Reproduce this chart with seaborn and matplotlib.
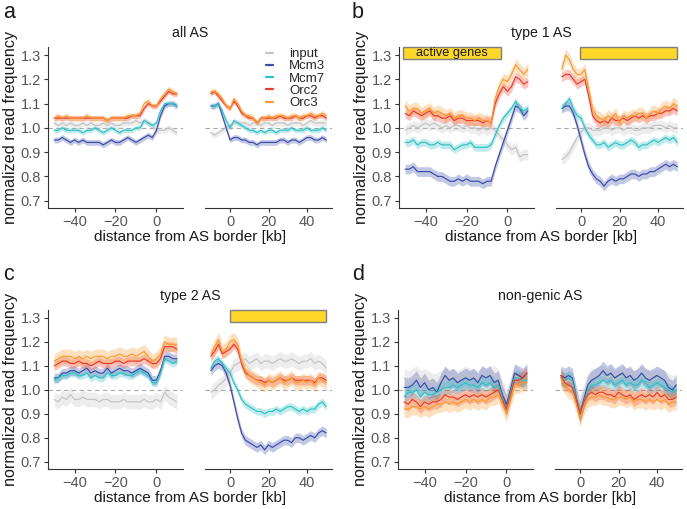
import pandas as pd
import matplotlib
matplotlib.use("Agg")
import matplotlib.pyplot as plt
from matplotlib.patches import Rectangle
import seaborn as sns

# -----------------------------
# Series and colours
# -----------------------------
series = ["input", "Mcm3", "Mcm7", "Orc2", "Orc3"]
palette = {"input": "#C4C4C4", "Mcm3": "#3B4BA8", "Mcm7": "#2EC0C4",
           "Orc2": "#EE3A2C", "Orc3": "#FA9A2E"}

x_left = list(range(-50, 11, 2))
x_right = list(range(-10, 51, 2))
y_ticks = [0.7, 0.8, 0.9, 1.0, 1.1, 1.2, 1.3]

# -----------------------------
# Panel a: all AS
# -----------------------------
a_left_input = [1.02, 1.01, 1.02, 1.01, 1.02, 1.01, 1.01, 1.02, 1.01, 1.02, 1.01, 1.01, 1.02, 1.01, 1.02, 1.01,
                1.01, 1.02, 1.02, 1.02, 1.03, 1.02, 1.03, 1.02, 1.01, 0.99, 0.99, 0.99, 1.00, 0.99, 0.98]
a_left_mcm3 = [0.95, 0.95, 0.96, 0.95, 0.94, 0.95, 0.94, 0.95, 0.94, 0.94, 0.94, 0.94, 0.93, 0.94, 0.95, 0.94,
               0.94, 0.95, 0.96, 0.95, 0.94, 0.95, 0.96, 0.97, 0.96, 0.99, 1.05, 1.09, 1.10, 1.10, 1.09]
a_left_mcm7 = [0.99, 0.99, 1.00, 0.99, 0.99, 0.99, 0.99, 0.98, 0.99, 0.99, 1.00, 0.99, 0.98, 0.99, 1.00, 0.99,
               0.98, 0.99, 0.99, 0.99, 1.00, 1.00, 1.03, 1.02, 1.01, 1.02, 1.07, 1.10, 1.10, 1.10, 1.09]
a_left_orc2 = [1.04, 1.04, 1.04, 1.04, 1.04, 1.04, 1.04, 1.04, 1.04, 1.04, 1.04, 1.04, 1.04, 1.03, 1.04, 1.04,
               1.04, 1.04, 1.04, 1.05, 1.05, 1.05, 1.08, 1.10, 1.09, 1.09, 1.11, 1.13, 1.15, 1.14, 1.14]
a_left_orc3 = [1.04, 1.05, 1.04, 1.05, 1.04, 1.04, 1.04, 1.04, 1.05, 1.04, 1.04, 1.04, 1.04, 1.03, 1.04, 1.04,
               1.04, 1.04, 1.05, 1.05, 1.05, 1.06, 1.10, 1.11, 1.09, 1.09, 1.12, 1.14, 1.16, 1.15, 1.14]
a_right_input = [0.98, 0.97, 0.98, 0.99, 1.00, 1.01, 1.02, 1.02, 1.02, 1.02, 1.01, 1.02, 1.02, 1.01, 1.02, 1.02,
                 1.01, 1.02, 1.02, 1.02, 1.01, 1.02, 1.02, 1.02, 1.01, 1.02, 1.03, 1.02, 1.02, 1.02, 1.02]
a_right_mcm3 = [1.09, 1.09, 1.10, 1.05, 1.00, 0.95, 0.96, 0.96, 0.95, 0.95, 0.94, 0.94, 0.93, 0.94, 0.94, 0.94,
                0.94, 0.94, 0.95, 0.95, 0.94, 0.95, 0.95, 0.94, 0.95, 0.96, 0.96, 0.95, 0.95, 0.96, 0.95]
a_right_mcm7 = [1.09, 1.09, 1.10, 1.07, 1.03, 1.00, 1.03, 1.02, 1.01, 1.00, 0.99, 0.99, 0.98, 0.99, 0.98, 0.99,
                0.99, 0.98, 0.99, 0.99, 0.99, 1.00, 0.99, 0.99, 0.99, 1.00, 0.99, 0.99, 0.99, 1.00, 0.99]
a_right_orc2 = [1.14, 1.15, 1.13, 1.11, 1.09, 1.08, 1.11, 1.09, 1.06, 1.05, 1.04, 1.04, 1.02, 1.04, 1.04, 1.04,
                1.04, 1.04, 1.05, 1.04, 1.04, 1.04, 1.05, 1.04, 1.04, 1.05, 1.05, 1.04, 1.05, 1.05, 1.04]
a_right_orc3 = [1.15, 1.15, 1.14, 1.12, 1.09, 1.08, 1.12, 1.10, 1.07, 1.05, 1.05, 1.04, 1.02, 1.04, 1.04, 1.05,
                1.04, 1.05, 1.05, 1.05, 1.04, 1.05, 1.05, 1.04, 1.05, 1.05, 1.06, 1.05, 1.05, 1.06, 1.05]
a_halfwidth = [0.013, 0.012, 0.010, 0.010, 0.012]

# -----------------------------
# Panel b: type 1 AS
# -----------------------------
b_left_input = [0.99, 1.00, 1.01, 1.00, 1.01, 1.02, 1.01, 1.02, 1.01, 1.00, 1.01, 1.00, 1.01, 1.01, 1.00, 1.01,
                1.00, 1.00, 0.99, 1.00, 0.99, 1.00, 0.99, 0.97, 0.95, 0.93, 0.91, 0.92, 0.88, 0.89, 0.89]
b_left_mcm3 = [0.83, 0.83, 0.84, 0.82, 0.82, 0.82, 0.82, 0.81, 0.80, 0.80, 0.79, 0.78, 0.78, 0.79, 0.78, 0.79,
               0.78, 0.78, 0.78, 0.77, 0.78, 0.78, 0.84, 0.89, 0.94, 0.99, 1.04, 1.09, 1.08, 1.05, 1.07]
b_left_mcm7 = [0.94, 0.94, 0.95, 0.93, 0.94, 0.94, 0.93, 0.93, 0.94, 0.93, 0.93, 0.93, 0.91, 0.92, 0.93, 0.93,
               0.94, 0.92, 0.92, 0.92, 0.92, 0.93, 0.97, 1.01, 1.04, 1.06, 1.08, 1.11, 1.08, 1.07, 1.08]
b_left_orc2 = [1.06, 1.05, 1.07, 1.06, 1.05, 1.06, 1.07, 1.05, 1.05, 1.04, 1.04, 1.05, 1.03, 1.04, 1.04, 1.03,
               1.03, 1.03, 1.03, 1.02, 1.03, 1.02, 1.10, 1.14, 1.17, 1.15, 1.17, 1.21, 1.20, 1.18, 1.19]
b_left_orc3 = [1.09, 1.07, 1.08, 1.08, 1.06, 1.07, 1.08, 1.06, 1.07, 1.06, 1.05, 1.06, 1.04, 1.05, 1.05, 1.04,
               1.04, 1.03, 1.04, 1.03, 1.03, 1.02, 1.12, 1.17, 1.20, 1.19, 1.22, 1.26, 1.24, 1.22, 1.24]
b_right_input = [0.87, 0.88, 0.90, 0.93, 0.96, 0.98, 1.00, 1.00, 0.99, 0.99, 0.99, 1.00, 1.00, 0.99, 1.00, 1.00,
                 0.99, 1.00, 1.00, 0.99, 0.99, 1.00, 1.00, 1.00, 1.01, 1.01, 1.01, 1.00, 1.01, 1.00, 1.00]
b_right_mcm3 = [1.08, 1.09, 1.09, 1.06, 1.01, 0.95, 0.89, 0.84, 0.81, 0.79, 0.78, 0.76, 0.78, 0.79, 0.78, 0.79,
                0.79, 0.80, 0.81, 0.81, 0.80, 0.81, 0.81, 0.82, 0.82, 0.83, 0.84, 0.85, 0.84, 0.85, 0.84]
b_right_mcm7 = [1.08, 1.10, 1.12, 1.08, 1.05, 1.04, 1.00, 0.97, 0.95, 0.93, 0.93, 0.94, 0.92, 0.93, 0.94, 0.93,
                0.93, 0.94, 0.95, 0.94, 0.92, 0.93, 0.93, 0.94, 0.95, 0.94, 0.95, 0.96, 0.95, 0.96, 0.94]
b_right_orc2 = [1.21, 1.22, 1.22, 1.20, 1.18, 1.19, 1.20, 1.13, 1.05, 1.03, 1.02, 1.03, 1.02, 1.04, 1.03, 1.03,
                1.04, 1.03, 1.04, 1.05, 1.04, 1.05, 1.04, 1.05, 1.05, 1.06, 1.06, 1.07, 1.07, 1.08, 1.07]
b_right_orc3 = [1.24, 1.30, 1.28, 1.24, 1.22, 1.22, 1.24, 1.16, 1.08, 1.05, 1.04, 1.03, 1.05, 1.04, 1.06, 1.02,
                1.05, 1.04, 1.05, 1.05, 1.06, 1.06, 1.04, 1.06, 1.07, 1.06, 1.08, 1.09, 1.08, 1.10, 1.09]
b_halfwidth = [0.022, 0.02, 0.016, 0.02, 0.025]

# -----------------------------
# Panel c: type 2 AS
# -----------------------------
c_left_input = [0.96, 0.95, 0.97, 0.96, 0.98, 0.96, 0.96, 0.97, 0.96, 0.96, 0.96, 0.95, 0.96, 0.96, 0.95, 0.95,
                0.95, 0.96, 0.95, 0.95, 0.95, 0.95, 0.96, 0.95, 0.95, 0.96, 0.95, 0.99, 0.97, 0.96, 0.95]
c_left_mcm3 = [1.05, 1.05, 1.07, 1.07, 1.08, 1.08, 1.07, 1.08, 1.09, 1.07, 1.08, 1.07, 1.07, 1.09, 1.07, 1.08,
               1.09, 1.08, 1.08, 1.07, 1.08, 1.09, 1.08, 1.07, 1.04, 1.04, 1.08, 1.14, 1.14, 1.13, 1.13]
c_left_mcm7 = [1.04, 1.05, 1.06, 1.06, 1.07, 1.07, 1.06, 1.06, 1.07, 1.05, 1.06, 1.05, 1.05, 1.07, 1.06, 1.06,
               1.07, 1.07, 1.06, 1.06, 1.07, 1.08, 1.07, 1.06, 1.03, 1.03, 1.07, 1.13, 1.12, 1.11, 1.12]
c_left_orc2 = [1.10, 1.11, 1.12, 1.12, 1.11, 1.11, 1.12, 1.11, 1.11, 1.10, 1.11, 1.12, 1.11, 1.11, 1.11, 1.12,
               1.12, 1.11, 1.12, 1.12, 1.12, 1.12, 1.13, 1.12, 1.11, 1.11, 1.13, 1.18, 1.18, 1.18, 1.17]
c_left_orc3 = [1.12, 1.13, 1.14, 1.14, 1.14, 1.13, 1.14, 1.13, 1.14, 1.13, 1.14, 1.14, 1.14, 1.13, 1.14, 1.14,
               1.15, 1.14, 1.14, 1.15, 1.14, 1.15, 1.16, 1.14, 1.12, 1.13, 1.15, 1.20, 1.19, 1.19, 1.19]
c_right_input = [0.99, 1.00, 1.02, 1.03, 1.05, 1.07, 1.10, 1.11, 1.12, 1.13, 1.11, 1.12, 1.13, 1.11, 1.12, 1.12,
                 1.11, 1.12, 1.13, 1.12, 1.12, 1.13, 1.12, 1.11, 1.12, 1.12, 1.13, 1.11, 1.12, 1.11, 1.09]
c_right_mcm3 = [1.08, 1.10, 1.11, 1.10, 1.07, 1.02, 0.95, 0.88, 0.82, 0.79, 0.78, 0.77, 0.76, 0.77, 0.75, 0.77,
                0.76, 0.77, 0.78, 0.79, 0.79, 0.78, 0.80, 0.80, 0.79, 0.80, 0.81, 0.80, 0.82, 0.83, 0.82]
c_right_mcm7 = [1.09, 1.12, 1.13, 1.11, 1.09, 1.07, 1.03, 1.00, 0.96, 0.94, 0.93, 0.92, 0.91, 0.91, 0.90, 0.91,
                0.91, 0.92, 0.91, 0.92, 0.93, 0.93, 0.92, 0.91, 0.92, 0.91, 0.92, 0.92, 0.94, 0.95, 0.93]
c_right_orc2 = [1.14, 1.16, 1.19, 1.15, 1.16, 1.17, 1.19, 1.17, 1.11, 1.07, 1.06, 1.05, 1.04, 1.04, 1.03, 1.04,
                1.03, 1.04, 1.05, 1.04, 1.04, 1.05, 1.04, 1.04, 1.04, 1.04, 1.04, 1.03, 1.05, 1.05, 1.04]
c_right_orc3 = [1.15, 1.18, 1.21, 1.16, 1.17, 1.20, 1.21, 1.19, 1.12, 1.08, 1.06, 1.05, 1.04, 1.03, 1.02, 1.04,
                1.03, 1.04, 1.05, 1.03, 1.04, 1.05, 1.03, 1.03, 1.04, 1.03, 1.04, 1.02, 1.05, 1.04, 1.03]
c_halfwidth = [0.03, 0.02, 0.016, 0.02, 0.03]

# -----------------------------
# Panel d: non-genic AS
# -----------------------------
d_left_input = [1.05, 1.04, 1.05, 1.06, 1.04, 1.05, 1.04, 1.03, 1.03, 1.04, 1.05, 1.05, 1.05, 1.04, 1.05, 1.06,
                1.05, 1.05, 1.04, 1.06, 1.05, 1.06, 1.06, 1.05, 1.00, 0.96, 1.01, 1.06, 1.05, 1.04, 1.04]
d_left_mcm3 = [1.01, 1.01, 1.02, 1.04, 1.01, 1.03, 1.00, 1.01, 0.99, 1.03, 1.06, 1.04, 1.05, 1.03, 1.04, 1.05,
               1.04, 1.05, 1.03, 1.06, 1.05, 1.06, 1.03, 1.04, 0.98, 0.94, 1.00, 1.07, 1.06, 1.05, 1.07]
d_left_mcm7 = [0.97, 0.99, 0.99, 1.00, 0.97, 0.99, 0.98, 0.98, 0.99, 1.00, 1.01, 1.01, 1.02, 1.01, 1.02, 1.03,
               1.02, 1.02, 1.01, 1.03, 1.02, 1.03, 1.01, 1.02, 0.97, 0.92, 0.99, 1.05, 1.05, 1.04, 1.04]
d_left_orc2 = [0.95, 0.94, 0.96, 0.95, 0.93, 0.95, 0.94, 0.95, 0.95, 0.96, 0.98, 0.97, 0.97, 0.96, 0.97, 0.98,
               0.97, 0.98, 0.97, 0.98, 0.97, 0.98, 0.99, 1.00, 0.96, 0.92, 0.98, 1.04, 1.04, 1.05, 1.07]
d_left_orc3 = [0.92, 0.92, 0.93, 0.93, 0.92, 0.93, 0.92, 0.93, 0.94, 0.94, 0.95, 0.94, 0.95, 0.94, 0.95, 0.96,
               0.95, 0.96, 0.95, 0.96, 0.95, 0.97, 0.97, 0.98, 0.94, 0.90, 0.96, 1.02, 1.02, 1.03, 1.03]
d_right_input = [1.04, 1.03, 1.04, 1.03, 0.98, 0.94, 0.99, 1.03, 1.05, 1.05, 1.06, 1.06, 1.05, 1.06, 1.04, 1.05,
                 1.06, 1.05, 1.05, 1.04, 1.05, 1.06, 1.05, 1.05, 1.04, 1.05, 1.05, 1.04, 1.03, 1.02, 1.03]
d_right_mcm3 = [1.06, 1.05, 1.06, 1.05, 0.97, 0.90, 0.96, 1.02, 1.04, 1.05, 1.06, 1.08, 1.06, 1.07, 1.05, 1.06,
                1.07, 1.05, 1.06, 1.04, 1.05, 1.07, 1.05, 1.04, 1.05, 1.06, 1.05, 1.04, 1.01, 1.00, 1.02]
d_right_mcm7 = [1.05, 1.04, 1.05, 1.04, 0.96, 0.90, 0.95, 1.00, 1.02, 1.02, 1.03, 1.04, 1.03, 1.04, 1.02, 1.03,
                1.04, 1.02, 1.03, 1.02, 1.02, 1.04, 1.03, 1.01, 1.02, 1.03, 1.02, 1.01, 1.00, 0.99, 1.00]
d_right_orc2 = [1.06, 1.03, 1.02, 1.01, 0.96, 0.90, 0.95, 0.98, 0.99, 0.98, 0.99, 0.99, 0.98, 0.98, 0.97, 0.99,
                0.98, 0.97, 0.98, 0.96, 0.97, 0.98, 0.97, 0.98, 0.97, 0.99, 0.97, 0.98, 0.96, 0.96, 0.97]
d_right_orc3 = [1.05, 1.02, 1.00, 0.99, 0.94, 0.88, 0.93, 0.96, 0.97, 0.97, 0.98, 0.97, 0.97, 0.96, 0.96, 0.97,
                0.97, 0.96, 0.97, 0.95, 0.96, 0.96, 0.95, 0.96, 0.95, 0.96, 0.95, 0.96, 0.94, 0.95, 0.95]
d_halfwidth = [0.04, 0.04, 0.03, 0.03, 0.035]

# active gene regions (kb) drawn as yellow bars
b_genes_left = (-51, -3)
b_genes_right = (-0.5, 50)
c_genes_right = (0, 50)

# -----------------------------
# Assemble panels
# -----------------------------
panels = [
    dict(letter="a", title="all AS", left_px=48, top_px=47, bottom_px=208,
         left=[a_left_input, a_left_mcm3, a_left_mcm7, a_left_orc2, a_left_orc3],
         right=[a_right_input, a_right_mcm3, a_right_mcm7, a_right_orc2, a_right_orc3],
         hw=a_halfwidth, genes=[None, None]),
    dict(letter="b", title="type 1 AS", left_px=399, top_px=47, bottom_px=208,
         left=[b_left_input, b_left_mcm3, b_left_mcm7, b_left_orc2, b_left_orc3],
         right=[b_right_input, b_right_mcm3, b_right_mcm7, b_right_orc2, b_right_orc3],
         hw=b_halfwidth, genes=[b_genes_left, b_genes_right]),
    dict(letter="c", title="type 2 AS", left_px=48, top_px=310, bottom_px=469,
         left=[c_left_input, c_left_mcm3, c_left_mcm7, c_left_orc2, c_left_orc3],
         right=[c_right_input, c_right_mcm3, c_right_mcm7, c_right_orc2, c_right_orc3],
         hw=c_halfwidth, genes=[None, c_genes_right]),
    dict(letter="d", title="non-genic AS", left_px=398, top_px=310, bottom_px=469,
         left=[d_left_input, d_left_mcm3, d_left_mcm7, d_left_orc2, d_left_orc3],
         right=[d_right_input, d_right_mcm3, d_right_mcm7, d_right_orc2, d_right_orc3],
         hw=d_halfwidth, genes=[None, None]),
]

# -----------------------------
# Style
# -----------------------------
sns.set_theme(style="ticks")
plt.rcParams["font.family"] = ["Liberation Sans", "DejaVu Sans"]
plt.rcParams["axes.edgecolor"] = "#333333"
plt.rcParams["axes.linewidth"] = 0.8
plt.rcParams["xtick.color"] = "#333333"
plt.rcParams["ytick.color"] = "#333333"
plt.rcParams["xtick.labelcolor"] = "#555555"
plt.rcParams["ytick.labelcolor"] = "#555555"
plt.rcParams["xtick.major.size"] = 3
plt.rcParams["ytick.major.size"] = 3
plt.rcParams["xtick.major.width"] = 0.8
plt.rcParams["ytick.major.width"] = 0.8

W, H = 687, 509
fig = plt.figure(figsize=(W / 100, H / 100), dpi=100)
LEFT_W, GAP, RIGHT_W = 135, 22, 127


def make_df(xs, values):
    rows = []
    for name, vals in zip(series, values):
        for x, v in zip(xs, vals):
            rows.append((x, v, name))
    return pd.DataFrame(rows, columns=["x", "value", "series"])


def draw_side(ax, xs, values, hw, xlim, show_legend=False):
    for name, vals, h in zip(series, values, hw):
        lo = [v - h for v in vals]
        hi = [v + h for v in vals]
        ax.fill_between(xs, lo, hi, color=palette[name], alpha=0.3, lw=0, zorder=1)
    ax.axhline(1.0, color="#A8A8A8", lw=0.8, ls=(0, (4, 3)), zorder=0.5)
    df = make_df(xs, values)
    sns.lineplot(data=df, x="x", y="value", hue="series", hue_order=series,
                 palette=palette, lw=0.85, ax=ax, legend=show_legend, zorder=2)
    ax.set_xlim(*xlim)
    ax.set_ylim(0.67, 1.333)
    ax.set_xlabel("")
    ax.set_ylabel("")
    ax.tick_params(labelsize=10.5, pad=2)


def add_gene_bar(ax, span):
    rect = Rectangle((span[0], 1.282), span[1] - span[0], 0.051, facecolor="#FDD72A",
                     edgecolor="#7F7F7F", lw=1.0, zorder=3, clip_on=False)
    ax.add_patch(rect)


for p in panels:
    bottom = 1 - p["bottom_px"] / H
    height = (p["bottom_px"] - p["top_px"]) / H
    ax_l = fig.add_axes([p["left_px"] / W, bottom, LEFT_W / W, height])
    ax_r = fig.add_axes([(p["left_px"] + LEFT_W + GAP) / W, bottom, RIGHT_W / W, height])

    draw_side(ax_l, x_left, p["left"], p["hw"], (-53, 13))
    draw_side(ax_r, x_right, p["right"], p["hw"], (-13, 53), show_legend=(p["letter"] == "a"))

    ax_l.set_xticks([-40, -20, 0])
    ax_r.set_xticks([0, 20, 40])
    ax_l.set_yticks(y_ticks)
    ax_l.set_yticklabels([f"{t:.1f}" for t in y_ticks])
    ax_l.set_ylabel("normalized read frequency", fontsize=11.7, labelpad=2, color="#1A1A1A")
    sns.despine(ax=ax_l)
    sns.despine(ax=ax_r, left=True)
    ax_r.set_yticks([])

    if p["genes"][0] is not None:
        add_gene_bar(ax_l, p["genes"][0])
        ax_l.text(sum(p["genes"][0]) / 2, 1.307, "active genes", ha="center", va="center",
                  fontsize=9.2, color="#1A1A1A", zorder=4)
    if p["genes"][1] is not None:
        add_gene_bar(ax_r, p["genes"][1])

    center_px = p["left_px"] + (LEFT_W + GAP + RIGHT_W) / 2
    fig.text(center_px / W, 1 - (p["top_px"] - 14) / H, p["title"], ha="center", va="center",
             fontsize=10.2, color="#1A1A1A")
    fig.text(center_px / W, 1 - (p["bottom_px"] + 29) / H, "distance from AS border [kb]",
             ha="center", va="center", fontsize=11, color="#1A1A1A")
    letter_x = 3 if p["letter"] in ("a", "c") else 352
    fig.text(letter_x / W, 1 - (p["top_px"] - 35) / H, p["letter"], ha="left", va="center",
             fontsize=15.5, color="#1A1A1A")

    if p["letter"] == "a":
        sns.move_legend(ax_r, "upper left", bbox_to_anchor=(266 / W, 1 - 48 / H),
                        bbox_transform=fig.transFigure, title=None, frameon=False,
                        fontsize=9.5, handlelength=0.55, labelspacing=0.0,
                        handletextpad=1.2, borderpad=0, borderaxespad=0)
        for handle in ax_r.get_legend().get_lines():
            handle.set_linewidth(1.6)

fig.savefig("out.png", dpi=100)
